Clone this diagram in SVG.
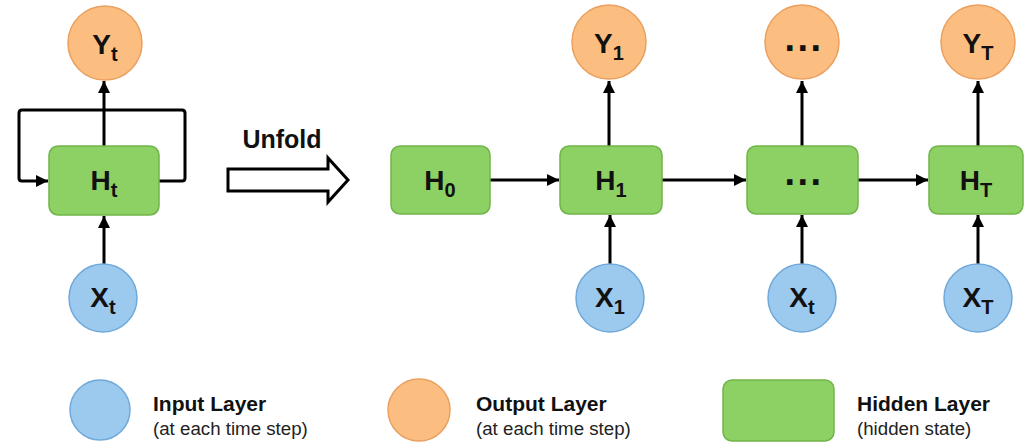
<svg xmlns="http://www.w3.org/2000/svg" width="1024" height="448" viewBox="0 0 1024 448">
  <style>
    .out { fill: #FBBE80; stroke: #E9A060; stroke-width: 1.5; }
    .inp { fill: #9CC9EE; stroke: #6FA9D9; stroke-width: 1.5; }
    .hid { fill: #8DD063; stroke: #70B54A; stroke-width: 1.5; }
    .lbl { font-family: "Liberation Sans", Arial, sans-serif; font-weight: bold; font-size: 28px; fill: #111; text-anchor: middle; }
    .sub { font-size: 20px; }
    .dots { font-family: "Liberation Sans", Arial, sans-serif; font-weight: bold; font-size: 38px; letter-spacing: 2.5px; fill: #111; text-anchor: middle; }
    .edge { stroke: #000; stroke-width: 3; fill: none; }
    .lgT { font-family: "Liberation Sans", Arial, sans-serif; font-weight: bold; font-size: 21px; fill: #111; }
    .lgS { font-family: "Liberation Sans", Arial, sans-serif; font-size: 18.7px; fill: #222; }
  </style>
  <defs>
    <marker id="arr" viewBox="0 0 12 12" refX="12" refY="6" markerWidth="12" markerHeight="12" markerUnits="userSpaceOnUse" orient="auto">
      <path d="M0,0 L12,6 L0,12 Z" fill="#000"/>
    </marker>
  </defs>
  <rect width="1024" height="448" fill="#FFFFFF"/>

  <!-- connectors -->
  <g id="connectors" class="edge">
    <!-- folded recurrence -->
    <path d="M104,146 V81" marker-end="url(#arr)"/>
    <path d="M104,264 V216" marker-end="url(#arr)"/>
    <path d="M159,181 H182 Q185,181 185,178 V113 Q185,110 182,110 H22 Q19,110 19,113 V178 Q19,181 22,181 H48" marker-end="url(#arr)"/>
    <!-- unrolled chain -->
    <path d="M490,180 H559" marker-end="url(#arr)"/>
    <path d="M662,180 H746" marker-end="url(#arr)"/>
    <path d="M858,180 H928" marker-end="url(#arr)"/>
    <path d="M609,146 V81" marker-end="url(#arr)"/>
    <path d="M802,146 V81" marker-end="url(#arr)"/>
    <path d="M978,146 V81" marker-end="url(#arr)"/>
    <path d="M610,264 V215" marker-end="url(#arr)"/>
    <path d="M802,264 V215" marker-end="url(#arr)"/>
    <path d="M978,264 V215" marker-end="url(#arr)"/>
  </g>

  <!-- folded network -->
  <g id="Yt">
    <circle class="out" cx="105" cy="43" r="37"/>
    <text class="lbl" x="105" y="54">Y<tspan class="sub" dy="7">t</tspan></text>
  </g>
  <g id="Ht">
    <rect class="hid" x="49" y="146" width="110" height="69" rx="9"/>
    <text class="lbl" x="104" y="190">H<tspan class="sub" dy="7">t</tspan></text>
  </g>
  <g id="Xt">
    <circle class="inp" cx="103" cy="298" r="34"/>
    <text class="lbl" x="103" y="307">X<tspan class="sub" dy="7">t</tspan></text>
  </g>

  <!-- unfold arrow -->
  <g id="unfold">
    <text x="282" y="148" font-family="Liberation Sans, Arial, sans-serif" font-weight="bold" font-size="25" fill="#111" text-anchor="middle">Unfold</text>
    <polygon points="228,169 328,169 328,158 348,180 328,202 328,191 228,191" fill="#FFFFFF" stroke="#000" stroke-width="3" stroke-linejoin="miter"/>
  </g>

  <!-- unrolled network -->
  <g id="H0">
    <rect class="hid" x="391" y="146" width="99" height="68" rx="9"/>
    <text class="lbl" x="440" y="190">H<tspan class="sub" dy="7">0</tspan></text>
  </g>
  <g id="H1">
    <rect class="hid" x="560" y="146" width="102" height="68" rx="9"/>
    <text class="lbl" x="611" y="190">H<tspan class="sub" dy="7">1</tspan></text>
  </g>
  <g id="Hmid">
    <rect class="hid" x="747" y="146" width="111" height="68" rx="9"/>
    <text class="dots" x="804" y="185">...</text>
  </g>
  <g id="HT">
    <rect class="hid" x="929" y="146" width="94" height="68" rx="9"/>
    <text class="lbl" x="976" y="190">H<tspan class="sub" dy="7">T</tspan></text>
  </g>
  <g id="Y1">
    <circle class="out" cx="609" cy="42" r="37"/>
    <text class="lbl" x="609" y="53">Y<tspan class="sub" dy="7">1</tspan></text>
  </g>
  <g id="Ymid">
    <circle class="out" cx="802" cy="42" r="37"/>
    <text class="dots" x="804" y="51">...</text>
  </g>
  <g id="YT">
    <circle class="out" cx="978" cy="42" r="37"/>
    <text class="lbl" x="978" y="53">Y<tspan class="sub" dy="7">T</tspan></text>
  </g>
  <g id="X1">
    <circle class="inp" cx="610" cy="298" r="34"/>
    <text class="lbl" x="610" y="307">X<tspan class="sub" dy="7">1</tspan></text>
  </g>
  <g id="Xmid">
    <circle class="inp" cx="802" cy="298" r="34"/>
    <text class="lbl" x="802" y="307">X<tspan class="sub" dy="7">t</tspan></text>
  </g>
  <g id="XT">
    <circle class="inp" cx="978" cy="298" r="34"/>
    <text class="lbl" x="978" y="307">X<tspan class="sub" dy="7">T</tspan></text>
  </g>

  <!-- legend -->
  <g id="legend-input">
    <circle class="inp" cx="100" cy="410" r="30"/>
    <text class="lgT" x="153" y="411">Input Layer</text>
    <text class="lgS" x="153" y="435">(at each time step)</text>
  </g>
  <g id="legend-output">
    <circle class="out" cx="419" cy="410" r="31"/>
    <text class="lgT" x="476" y="411">Output Layer</text>
    <text class="lgS" x="476" y="435">(at each time step)</text>
  </g>
  <g id="legend-hidden">
    <rect class="hid" x="723" y="380" width="111" height="61" rx="9"/>
    <text class="lgT" x="857" y="411">Hidden Layer</text>
    <text class="lgS" x="857" y="435">(hidden state)</text>
  </g>
</svg>
